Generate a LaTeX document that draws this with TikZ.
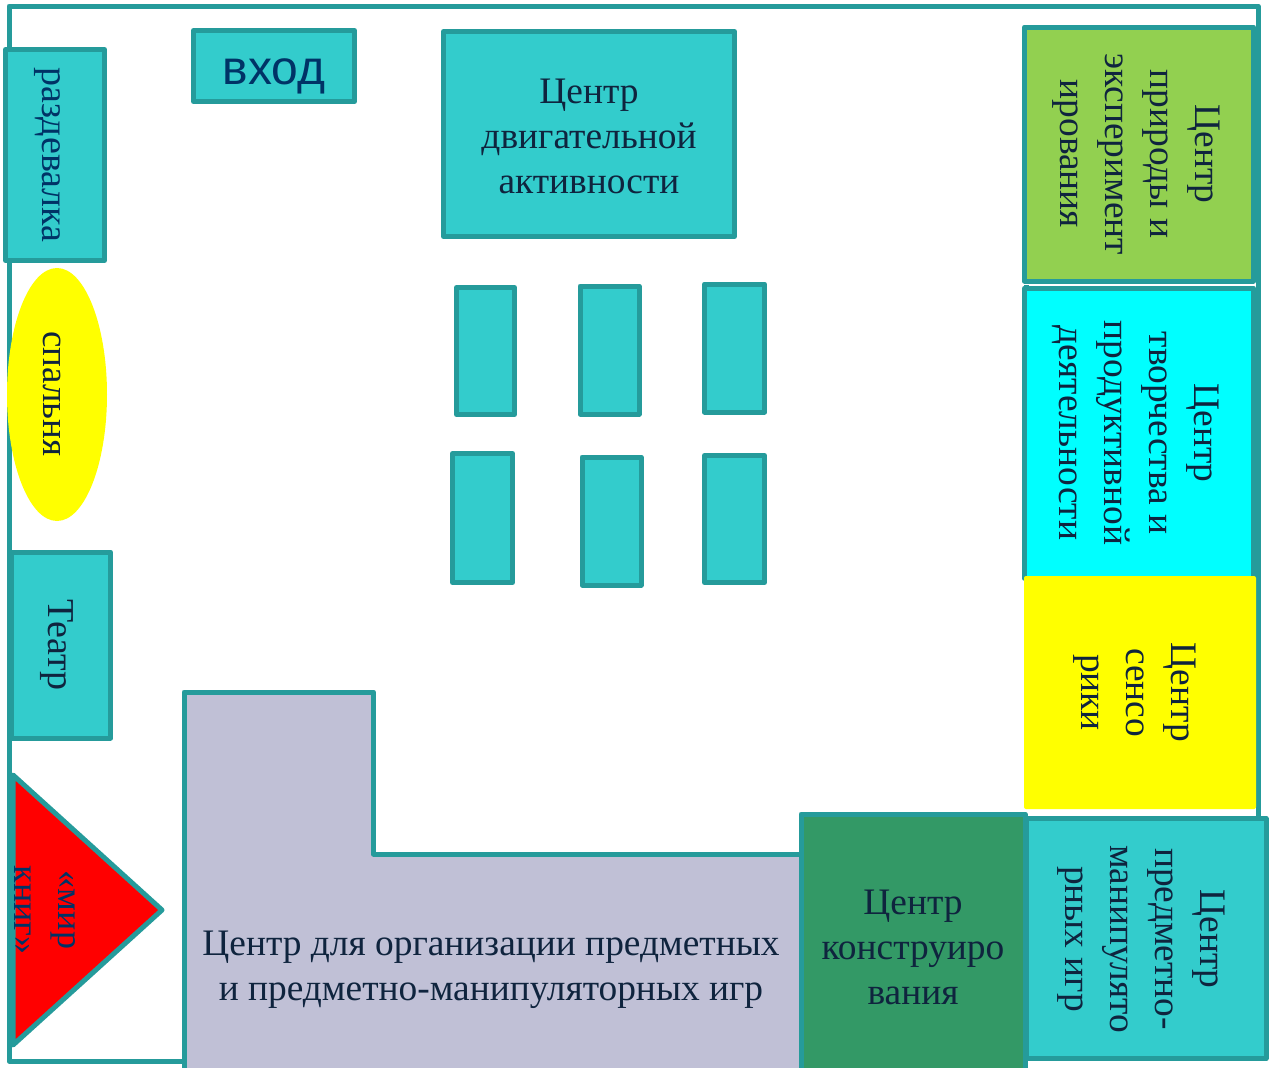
\documentclass[tikz,border=0pt]{standalone}
\usepackage{fontspec}
\usetikzlibrary{shapes.geometric}
\setmainfont{Liberation Serif}
\newfontfamily\headfont{Liberation Sans}
\definecolor{wallc}{HTML}{259B9B}
\definecolor{tealf}{HTML}{33CCCC}
\definecolor{ink}{HTML}{0F243E}
\definecolor{navy}{HTML}{003366}
\definecolor{greenf}{HTML}{92D050}
\definecolor{darkg}{HTML}{339966}
\definecolor{lilac}{HTML}{C0C0D6}
\definecolor{purecyan}{HTML}{00FFFF}
\definecolor{pureyellow}{HTML}{FFFF00}
\definecolor{purered}{HTML}{FF0000}
\tikzset{
  wall/.style={draw=wallc,line width=5pt,line join=round},
  desk/.style={wall,fill=tealf,rectangle,inner sep=0pt,outer sep=0pt},
  words/.style={inner sep=0pt,outer sep=0pt,align=center,text=ink,font=\fontsize{37.4}{45}\selectfont},
  sidewords/.style={words,rotate=-90}
}
\begin{document}
\begin{tikzpicture}[x=1pt,y=-1pt]
\useasboundingbox (0,0) rectangle (1270,1068);
\fill[white] (0,0) rectangle (1270,1068);
% outer walls
\draw[wall] (184,1061) -- (9,1061) -- (9,6) -- (1258,6) -- (1258,820);
\draw[wall] (1026,576) -- (1026,285);
% left column
\node[desk,minimum width=99pt,minimum height=211pt] (cloak) at (55,155) {};
\node[sidewords,text=navy,font=\fontsize{38}{45}\selectfont] (cloaklabel) at (47,155) {раздевалка};
\node[ellipse,fill=pureyellow,inner sep=0pt,outer sep=0pt,minimum width=100pt,minimum height=253pt] (bed) at (57,394.5) {};
\node[sidewords,font=\fontsize{37}{45}\selectfont] (bedlabel) at (52,394) {спальня};
\node[desk,minimum width=99pt,minimum height=186pt] (theatre) at (61,645) {};
\node[sidewords,font=\fontsize{38}{45}\selectfont] (theatrelabel) at (57,645) {Театр};
% triangle
\coordinate (ta) at (13,775);
\coordinate (tb) at (162,910);
\coordinate (tc) at (13,1045);
\draw[wall,fill=purered] (ta) -- (tb) -- (tc) -- cycle;
\node[sidewords,text=navy,font=\fontsize{36}{44}\selectfont] (books) at (45,910) {«мир\\книг»};
% top
\node[desk,minimum width=161pt,minimum height=71pt] (door) at (274,66) {};
\node[words,text=navy,font=\headfont\fontsize{48}{50}\selectfont] (doorlabel) at (274,76) {вход};
\node[desk,minimum width=291pt,minimum height=205pt] (motor) at (589,134) {};
\node[words] (motorlabel) at (589,136) {Центр\\двигательной\\активности};
% desks
\node[desk,minimum width=58pt,minimum height=127pt] (d1) at (485.5,351) {};
\node[desk,minimum width=59pt,minimum height=128pt] (d2) at (609.5,350) {};
\node[desk,minimum width=60pt,minimum height=128pt] (d3) at (734.5,348) {};
\node[desk,minimum width=60pt,minimum height=129pt] (d4) at (482.5,518) {};
\node[desk,minimum width=59pt,minimum height=128pt] (d5) at (611.5,521) {};
\node[desk,minimum width=60pt,minimum height=127pt] (d6) at (734.5,519) {};
% L-shaped centre
\draw[wall,fill=lilac] (184,1072) -- (184,692) -- (373.5,692) -- (373.5,854) -- (801,854) -- (801,1072) -- cycle;
\node[words] (games) at (491,970) {Центр для организации предметных\\и предметно-манипуляторных игр};
% right column
\node[desk,fill=greenf,minimum width=229pt,minimum height=254pt] (nature) at (1139,154) {};
\node[sidewords] (naturelabel) at (1136,154) {Центр\\природы и\\эксперимент\\ирования};
\node[desk,fill=purecyan,minimum width=229pt,minimum height=290pt] (art) at (1139,433) {};
\node[sidewords] (artlabel) at (1136,433) {Центр\\творчества и\\продуктивной\\деятельности};
\node[rectangle,fill=pureyellow,rounded corners=2pt,inner sep=0pt,outer sep=0pt,minimum width=232pt,minimum height=233pt] (sensor) at (1140,692.5) {};
\node[sidewords] (sensorlabel) at (1135,692.5) {Центр\\сенсо\\рики};
\node[desk,fill=darkg,minimum width=224pt,minimum height=262pt] (build) at (913,945) {};
\node[words] (buildlabel) at (913,947) {Центр\\конструиро\\вания};
\node[desk,minimum width=240pt,minimum height=240pt] (manip) at (1146,938.5) {};
\node[sidewords] (maniplabel) at (1141,939) {Центр\\предметно-\\манипулято\\рных игр};
\end{tikzpicture}
\end{document}
